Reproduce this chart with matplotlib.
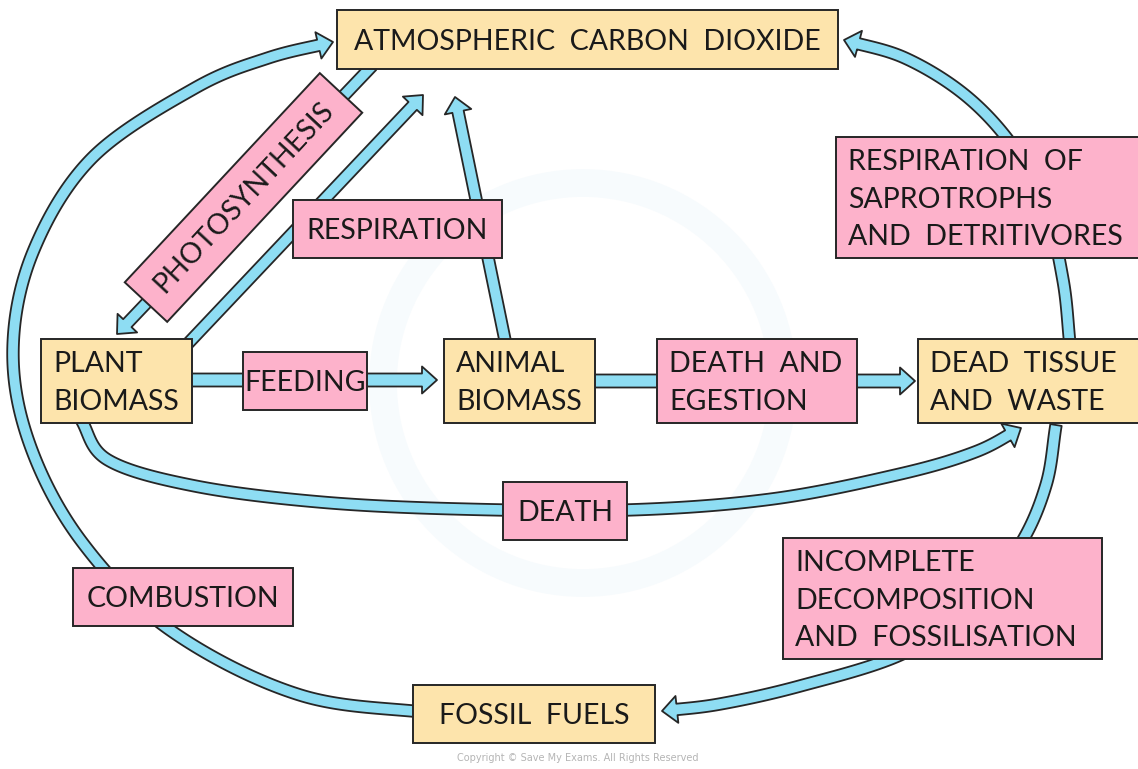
import numpy as np
import matplotlib
matplotlib.use("Agg")
import matplotlib.pyplot as plt
from matplotlib.patches import Polygon, Rectangle, Circle

plt.rcParams["font.family"] = ["Lato", "DejaVu Sans"]

W, H = 1138, 769
YELLOW = "#FDE4AC"
PINK = "#FDB2CB"
BLUE = "#8EDDF3"
EDGE = "#262626"
FS = 20.5  # pt

# boxes: label lines, left, top, width, height, colour
box_labels = [
    ["ATMOSPHERIC  CARBON  DIOXIDE"],
    ["RESPIRATION"],
    ["RESPIRATION  OF", "SAPROTROPHS", "AND  DETRITIVORES"],
    ["PLANT", "BIOMASS"],
    ["FEEDING"],
    ["ANIMAL", "BIOMASS"],
    ["DEATH  AND", "EGESTION"],
    ["DEAD  TISSUE", "AND  WASTE"],
    ["DEATH"],
    ["COMBUSTION"],
    ["INCOMPLETE", "DECOMPOSITION", "AND  FOSSILISATION"],
    ["FOSSIL  FUELS"],
]
box_x = [337, 293, 836, 41, 243, 444, 657, 918, 503, 73, 783, 413]
box_y = [10, 200, 137, 339, 352, 339, 339, 339, 482, 568, 538, 685]
box_w = [501, 209, 320, 151, 124, 151, 200, 240, 124, 220, 319, 242]
box_h = [59, 58, 121, 84, 58, 84, 84, 84, 58, 58, 121, 58]
box_col = [YELLOW, PINK, PINK, YELLOW, PINK, YELLOW, PINK, YELLOW, PINK, PINK, PINK, YELLOW]

# rotated label on the photosynthesis arrow
photo_label = "PHOTOSYNTHESIS"
photo_centre = (243.5, 197.5)
photo_size = (286, 58)
photo_angle = 47

# arrow centre lines (tail ... tip)
arrows = {
    "combustion": [(440, 714), (300, 695), (170, 630), (82, 542), (30, 445),
                   (13, 350), (33, 252), (92, 158), (195, 88), (268, 58),
                   (333, 42)],
    "photosynthesis": [(372, 66), (117, 334)],
    "plant_resp": [(180, 352), (423, 95)],
    "animal_resp": [(506, 345), (455, 97)],
    "feeding": [(185, 380), (437, 380)],
    "egestion": [(590, 381), (915, 381)],
    "death": [(80, 418), (108, 460), (195, 486), (320, 502), (460, 509),
              (627, 510), (772, 499), (900, 474), (975, 452), (1021, 428)],
    "sapro": [(1070, 345), (1063, 280), (1045, 205), (1012, 145), (965, 95),
              (905, 58), (844, 40)],
    "incomplete": [(1056, 425), (1046, 485), (1020, 545), (970, 610),
                   (900, 655), (800, 686), (720, 704), (662, 711)],
}


def spline(pts, n=40):
    p = np.asarray(pts, float)
    p = np.vstack([2 * p[0] - p[1], p, 2 * p[-1] - p[-2]])
    out = []
    t = np.linspace(0, 1, n, endpoint=False)[:, None]
    for i in range(1, len(p) - 2):
        p0, p1, p2, p3 = p[i - 1], p[i], p[i + 1], p[i + 2]
        out.append(0.5 * (2 * p1 + (-p0 + p2) * t
                          + (2 * p0 - 5 * p1 + 4 * p2 - p3) * t ** 2
                          + (-p0 + 3 * p1 - 3 * p2 + p3) * t ** 3))
    out.append(p[-2][None])
    return np.vstack(out)


def arrow_poly(pts, w=11.5, hw=27, hl=15):
    c = spline(pts)
    d = np.r_[0, np.cumsum(np.hypot(*np.diff(c, axis=0).T))]
    L = d[-1]
    tip = c[-1]
    base = np.array([np.interp(L - hl, d, c[:, 0]), np.interp(L - hl, d, c[:, 1])])
    shaft = np.vstack([c[d < L - hl], base])
    tg = np.gradient(shaft, axis=0)
    tg /= np.hypot(tg[:, 0], tg[:, 1])[:, None]
    nr = np.c_[-tg[:, 1], tg[:, 0]]
    u = (tip - base) / np.hypot(*(tip - base))
    nh = np.array([-u[1], u[0]])
    nr[-1] = nh
    left = shaft + nr * w / 2
    right = shaft - nr * w / 2
    return np.vstack([left, base + nh * hw / 2, tip, base - nh * hw / 2, right[::-1]])


fig = plt.figure(figsize=(W / 100, H / 100), dpi=100)
ax = fig.add_axes([0, 0, 1, 1])
ax.set_xlim(0, W)
ax.set_ylim(H, 0)
ax.axis("off")

# very faint watermark ring
ax.add_patch(Circle((583, 383), 200, fill=False, ec="#F7FBFD", lw=20, zorder=0))

for name, pts in arrows.items():
    w = 13 if name in ("feeding", "egestion") else 11.5
    ax.add_patch(Polygon(arrow_poly(pts, w=w), closed=True, fc=BLUE, ec=EDGE,
                         lw=1.3, joinstyle="round", zorder=2))

px = 100 / 72
cap = 0.36 * FS * px
for lines, x, y, w, h, col in zip(box_labels, box_x, box_y, box_w, box_h, box_col):
    ax.add_patch(Rectangle((x, y), w, h, fc=col, ec=EDGE, lw=1.4, zorder=3))
    if len(lines) == 1:
        ax.text(x + w / 2, y + h / 2 + cap, lines[0], ha="center", va="baseline",
                fontsize=FS, color="#1a1a1a", zorder=4)
    else:
        for i, ln in enumerate(lines):
            ax.text(x + 12, y + 23 + 37.5 * i + cap, ln, ha="left", va="baseline",
                    fontsize=FS, color="#1a1a1a", zorder=4)

# rotated photosynthesis box
cx, cy = photo_centre
a = np.deg2rad(photo_angle)
ua = np.array([np.cos(a), -np.sin(a)])
va = np.array([np.sin(a), np.cos(a)])
L2, S2 = photo_size[0] / 2, photo_size[1] / 2
c0 = np.array([cx, cy])
corners = [c0 - ua * L2 - va * S2, c0 + ua * L2 - va * S2,
           c0 + ua * L2 + va * S2, c0 - ua * L2 + va * S2]
ax.add_patch(Polygon(corners, closed=True, fc=PINK, ec=EDGE, lw=1.4, zorder=3))
ax.text(cx, cy, photo_label, ha="center", va="center", rotation=photo_angle,
        rotation_mode="anchor", fontsize=FS, color="#1a1a1a", zorder=4)

ax.text(578, 758, "Copyright \u00a9 Save My Exams. All Rights Reserved", ha="center",
        va="center", fontsize=7, color="#b5b5b5", family=["DejaVu Sans"])

fig.savefig("out.png", dpi=100)
